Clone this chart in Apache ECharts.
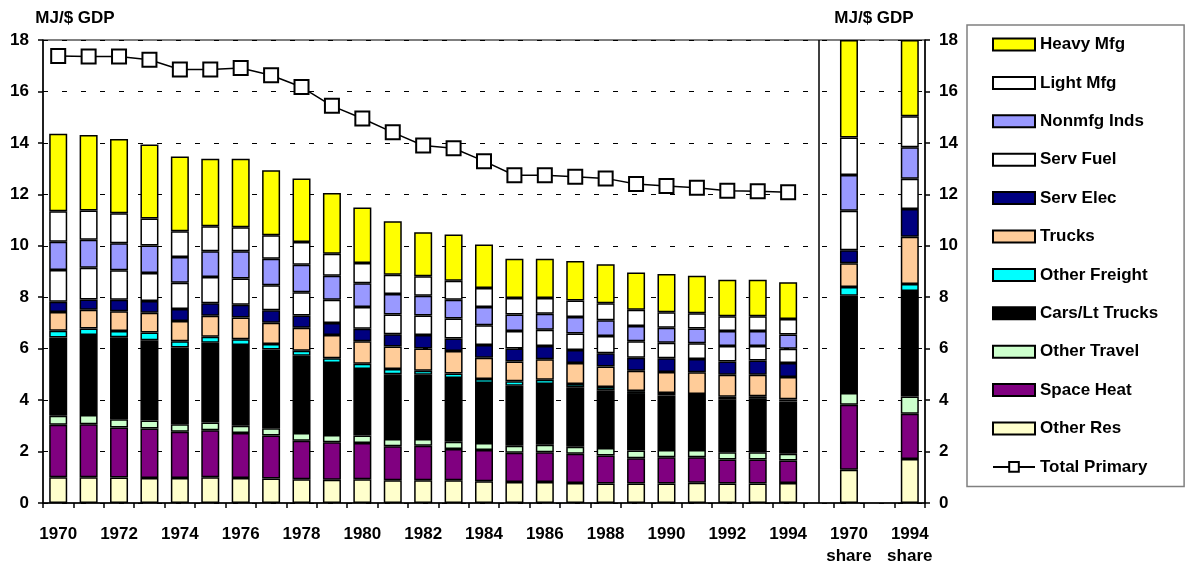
<!DOCTYPE html>
<html>
<head>
<meta charset="utf-8">
<script src="https://cdn.jsdelivr.net/npm/echarts@6/dist/echarts.min.js"></script>
<style>html,body{margin:0;padding:0;background:#fff;}#c{width:1188px;height:567px;}</style>
</head>
<body>
<div id="c"></div>
<script>
const years = ['1970','1971','1972','1973','1974','1975','1976','1977','1978','1979','1980','1981','1982','1983','1984','1985','1986','1987','1988','1989','1990','1991','1992','1993','1994'];
const shareCats = ['', '1970\nshare', ' ', '1994\nshare'];

const otherRes   = [1.00,1.00,0.99,0.97,0.97,1.00,0.97,0.95,0.92,0.90,0.92,0.88,0.88,0.88,0.85,0.82,0.82,0.78,0.76,0.76,0.76,0.79,0.76,0.76,0.78];
const spaceHeat  = [2.04,2.06,1.95,1.93,1.80,1.83,1.75,1.67,1.50,1.46,1.41,1.33,1.35,1.22,1.21,1.13,1.15,1.13,1.09,0.98,1.02,0.99,0.93,0.93,0.87];
const otherTravel= [0.35,0.36,0.32,0.31,0.29,0.30,0.28,0.29,0.30,0.28,0.29,0.28,0.26,0.28,0.27,0.28,0.29,0.28,0.29,0.30,0.28,0.28,0.28,0.28,0.26];
const carsLt     = [3.04,3.11,3.18,3.12,2.99,3.10,3.14,3.06,3.00,2.80,2.59,2.52,2.50,2.48,2.34,2.33,2.37,2.31,2.24,2.20,2.12,2.06,2.06,2.08,2.03];
const otherFr    = [0.27,0.25,0.25,0.30,0.24,0.23,0.23,0.21,0.20,0.19,0.20,0.20,0.15,0.17,0.15,0.17,0.16,0.13,0.13,0.11,0.10,0.12,0.10,0.10,0.09];
const trucks     = [0.73,0.73,0.76,0.77,0.79,0.82,0.84,0.83,0.89,0.90,0.88,0.87,0.87,0.88,0.83,0.77,0.80,0.81,0.80,0.79,0.81,0.84,0.86,0.84,0.87];
const servElec   = [0.39,0.40,0.45,0.45,0.46,0.49,0.50,0.48,0.48,0.47,0.48,0.48,0.52,0.49,0.49,0.51,0.51,0.51,0.51,0.51,0.54,0.52,0.51,0.55,0.54];
const servFuel   = [1.24,1.24,1.15,1.09,1.02,1.02,1.02,0.98,0.90,0.90,0.85,0.77,0.76,0.77,0.77,0.68,0.64,0.64,0.67,0.64,0.60,0.61,0.60,0.56,0.56];
const nonmfg     = [1.10,1.08,1.05,1.07,1.00,1.00,1.06,1.03,1.07,0.93,0.92,0.80,0.77,0.73,0.71,0.64,0.62,0.64,0.61,0.59,0.58,0.57,0.59,0.59,0.55];
const lightMfg   = [1.18,1.14,1.16,1.05,1.00,0.97,0.93,0.91,0.89,0.86,0.79,0.74,0.76,0.74,0.74,0.64,0.61,0.64,0.67,0.63,0.61,0.60,0.57,0.57,0.60];
const heavyMfg   = [3.02,2.94,2.89,2.88,2.91,2.62,2.66,2.53,2.47,2.36,2.16,2.08,1.71,1.80,1.69,1.53,1.53,1.54,1.51,1.45,1.48,1.45,1.42,1.42,1.43];
const totalPrimary = [17.38,17.36,17.36,17.23,16.85,16.85,16.91,16.63,16.17,15.44,14.95,14.41,13.90,13.79,13.29,12.74,12.74,12.68,12.62,12.40,12.32,12.26,12.14,12.12,12.08];

// share bars (1970 share, 1994 share), scaled to 18
const shareOtherRes    = [1.29,1.71];
const shareSpaceHeat   = [2.53,1.76];
const shareOtherTravel = [0.46,0.67];
const shareCarsLt      = [3.78,4.10];
const shareOtherFr     = [0.34,0.27];
const shareTrucks      = [0.92,1.84];
const shareServElec    = [0.51,1.08];
const shareServFuel    = [1.53,1.18];
const shareNonmfg      = [1.39,1.22];
const shareLightMfg    = [1.46,1.21];
const shareHeavyMfg    = [3.79,2.96];

const categories = years.concat(shareCats);
function full(vals, sh){ return vals.concat([null, sh[0], null, sh[1]]); }

const stackDefs = [
  ['Other Res', otherRes, shareOtherRes, '#FFFFCC'],
  ['Space Heat', spaceHeat, shareSpaceHeat, '#800080'],
  ['Other Travel', otherTravel, shareOtherTravel, '#CCFFCC'],
  ['Cars/Lt Trucks', carsLt, shareCarsLt, '#000000'],
  ['Other Freight', otherFr, shareOtherFr, '#00FFFF'],
  ['Trucks', trucks, shareTrucks, '#FFCC99'],
  ['Serv Elec', servElec, shareServElec, '#000080'],
  ['Serv Fuel', servFuel, shareServFuel, '#FFFFFF'],
  ['Nonmfg Inds', nonmfg, shareNonmfg, '#9999FF'],
  ['Light Mfg', lightMfg, shareLightMfg, '#FFFFFF'],
  ['Heavy Mfg', heavyMfg, shareHeavyMfg, '#FFFF00']
];

const FONT = 'Liberation Sans, Arial, sans-serif';

const series = stackDefs.map(function(d, i){
  const s = {
    name: d[0], type: 'bar', stack: 'total', barWidth: 18,
    data: full(d[1], d[2]),
    itemStyle: { color: d[3], borderColor: '#000', borderWidth: 1.5 },
    emphasis: { disabled: true }
  };
  if (i === 0) {
    s.markLine = {
      silent: true, symbol: ['none','none'], label: { show: false },
      lineStyle: { color: '#000', type: 'solid', width: 1.5 },
      data: [{ xAxis: 25 }]
    };
  }
  return s;
});

series.push({
  name: 'Total Primary', type: 'line',
  data: totalPrimary.concat([null, null, null, null]),
  symbol: 'rect', symbolSize: 14,
  lineStyle: { color: '#000', width: 1.5 },
  itemStyle: { color: '#fff', borderColor: '#000', borderWidth: 2 },
  z: 5, emphasis: { disabled: true }
});

const legendOrder = ['Heavy Mfg','Light Mfg','Nonmfg Inds','Serv Fuel','Serv Elec','Trucks','Other Freight','Cars/Lt Trucks','Other Travel','Space Heat','Other Res'];

const chart = echarts.init(document.getElementById('c'));
chart.setOption({
  animation: false,
  backgroundColor: '#fff',
  textStyle: { fontFamily: FONT },
  grid: { left: 43, width: 882, top: 40, height: 468, show: true, borderColor: '#000', borderWidth: 1 },
  legend: {
    orient: 'vertical', left: 967, top: 25,
    padding: [11, 26, 11, 25],
    borderColor: '#808080', borderWidth: 1.5,
    itemWidth: 42, itemHeight: 12, itemGap: 21.4,
    textStyle: { fontFamily: FONT, fontWeight: 'bold', fontSize: 17, color: '#000' },
    data: legendOrder.map(function(n){ return { name: n, icon: 'rect' }; }).concat([{ name: 'Total Primary' }])
  },
  xAxis: {
    type: 'category', data: categories,
    axisLine: { lineStyle: { color: '#000', width: 1.5 } },
    axisTick: { show: true, interval: 0, length: 5, lineStyle: { color: '#000', width: 1.5 } },
    axisLabel: { interval: 1, margin: 20, color: '#000', fontWeight: 'bold', fontSize: 17, fontFamily: FONT, lineHeight: 22 }
  },
  yAxis: [
    {
      type: 'value', min: 0, max: 18, interval: 2, position: 'left',
      name: 'MJ/$ GDP', nameLocation: 'end', nameGap: 13,
      nameTextStyle: { color: '#000', fontWeight: 'bold', fontSize: 17, fontFamily: FONT, align: 'center', padding: [0, 0, 0, 64] },
      axisLine: { show: true, lineStyle: { color: '#000', width: 1.5 } },
      axisTick: { show: true, length: 5, lineStyle: { color: '#000', width: 1.5 } },
      axisLabel: { margin: 14, color: '#000', fontWeight: 'bold', fontSize: 17, fontFamily: FONT },
      splitLine: { show: true, lineStyle: { color: '#000', type: [5, 14], width: 1 } }
    },
    {
      type: 'value', min: 0, max: 18, interval: 2, position: 'right',
      name: 'MJ/$ GDP', nameLocation: 'end', nameGap: 13,
      nameTextStyle: { color: '#000', fontWeight: 'bold', fontSize: 17, fontFamily: FONT, align: 'center', padding: [0, 102, 0, 0] },
      axisLine: { show: true, lineStyle: { color: '#000', width: 1.5 } },
      axisTick: { show: true, length: 5, lineStyle: { color: '#000', width: 1.5 } },
      axisLabel: { margin: 14, color: '#000', fontWeight: 'bold', fontSize: 17, fontFamily: FONT },
      splitLine: { show: false }
    }
  ],
  series: series
});
</script>
</body>
</html>
